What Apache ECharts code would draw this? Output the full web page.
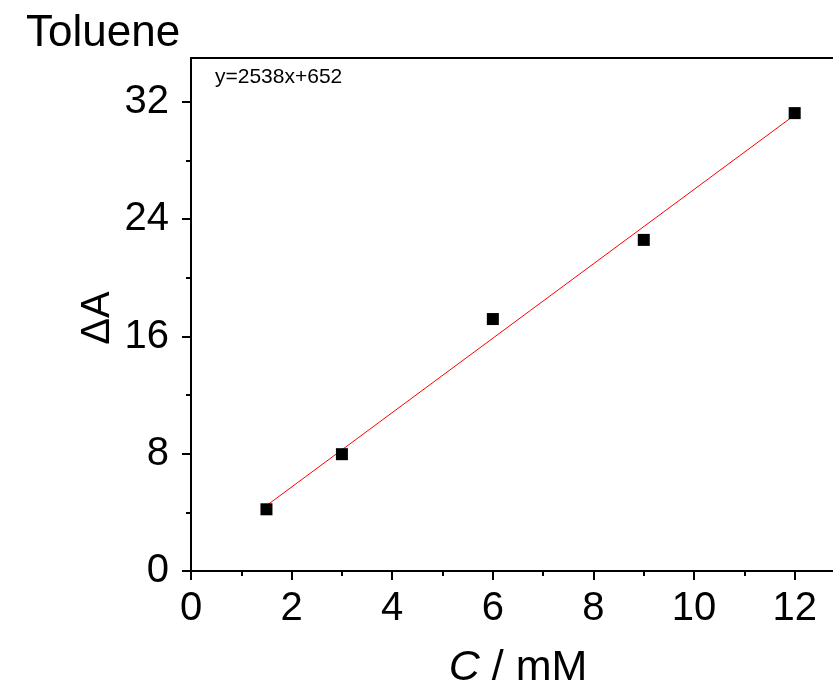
<!DOCTYPE html>
<html>
<head>
<meta charset="utf-8">
<style>
  html, body { margin: 0; padding: 0; background: #fff; }
  #chart { width: 833px; height: 689px; }
</style>
<script src="https://cdn.jsdelivr.net/npm/echarts@6/dist/echarts.min.js"></script>
</head>
<body>
<div id="chart"></div>
<script>
// Concentration (mM) and absorbance change for each standard
const concentrations = [1.5, 3, 6, 9, 12];
const deltaA = [4.21, 7.97, 17.19, 22.59, 31.24];

// Fitted line endpoints (y = 2538x + 652, in units of 10^-3)
const fitX = [1.5, 12];
const fitY = [4.46, 31.11];

// Tick positions
const xMajorTicks = [0, 2, 4, 6, 8, 10, 12];
const xMinorTicks = [1, 3, 5, 7, 9, 11];
const yMajorTicks = [0, 8, 16, 24, 32];
const yMinorTicks = [4, 12, 20, 28];

const FONT = '"Liberation Sans", Arial, sans-serif';
const X_MIN = 0, X_MAX = 13, Y_MIN = 0, Y_MAX = 35;

const chart = echarts.init(document.getElementById('chart'), null, { renderer: 'canvas' });

const baseX = {
  type: 'value', min: X_MIN, max: X_MAX, gridIndex: 0,
  splitLine: { show: false }
};
const baseY = {
  type: 'value', min: Y_MIN, max: Y_MAX, gridIndex: 0,
  splitLine: { show: false }
};

chart.setOption({
  animation: false,
  backgroundColor: '#fff',
  grid: {
    left: 191, top: 58, right: -12, bottom: 118,
    outerBoundsMode: 'none', containLabel: false,
    show: true, borderColor: '#000', borderWidth: 2, backgroundColor: 'transparent'
  },
  xAxis: [
    Object.assign({}, baseX, {
      position: 'bottom',
      axisLine: { show: true, onZero: false, lineStyle: { color: '#000', width: 2 } },
      axisTick: { show: true, inside: false, length: 9, customValues: xMajorTicks, lineStyle: { color: '#000', width: 2 } },
      axisLabel: { show: true, customValues: xMajorTicks, margin: 18, color: '#000', fontFamily: FONT, fontSize: 40 }
    }),
    Object.assign({}, baseX, {
      position: 'bottom',
      axisLine: { show: false, onZero: false },
      axisTick: { show: true, inside: false, length: 5, customValues: xMinorTicks, lineStyle: { color: '#000', width: 2 } },
      axisLabel: { show: false }
    })
  ],
  yAxis: [
    Object.assign({}, baseY, {
      position: 'left',
      axisLine: { show: true, onZero: false, lineStyle: { color: '#000', width: 2 } },
      axisTick: { show: true, inside: false, length: 9, customValues: yMajorTicks, lineStyle: { color: '#000', width: 2 } },
      axisLabel: { show: true, customValues: yMajorTicks, margin: 22, color: '#000', fontFamily: FONT, fontSize: 40 }
    }),
    Object.assign({}, baseY, {
      position: 'left',
      axisLine: { show: false, onZero: false },
      axisTick: { show: true, inside: false, length: 5, customValues: yMinorTicks, lineStyle: { color: '#000', width: 2 } },
      axisLabel: { show: false }
    })
  ],
  series: [
    {
      type: 'line',
      xAxisIndex: 0, yAxisIndex: 0,
      data: fitX.map((x, i) => [x, fitY[i]]),
      symbol: 'none',
      lineStyle: { color: '#ff0000', width: 1 },
      z: 2
    },
    {
      type: 'scatter',
      xAxisIndex: 0, yAxisIndex: 0,
      data: concentrations.map((c, i) => [c, deltaA[i]]),
      symbol: 'rect',
      symbolSize: 12,
      itemStyle: { color: '#000', opacity: 1 },
      z: 3
    }
  ],
  graphic: [
    {
      type: 'text', left: 26, top: 12,
      style: { text: 'Toluene', fill: '#000', font: '44px ' + FONT }
    },
    {
      type: 'text', left: 215, top: 67,
      style: { text: 'y=2538x+652', fill: '#000', font: '21px ' + FONT }
    },
    {
      type: 'text', x: 98, y: 318, rotation: Math.PI / 2,
      style: { text: 'ΔA', fill: '#000', font: '40px ' + FONT, align: 'center', verticalAlign: 'middle' }
    },
    {
      type: 'text', x: 518, y: 668,
      style: {
        text: '{i|C} / mM',
        align: 'center', verticalAlign: 'middle',
        fill: '#000', font: '43px ' + FONT,
        rich: { i: { fontStyle: 'italic', fontFamily: FONT, fontSize: 43, fill: '#000' } }
      }
    }
  ]
});
</script>
</body>
</html>
